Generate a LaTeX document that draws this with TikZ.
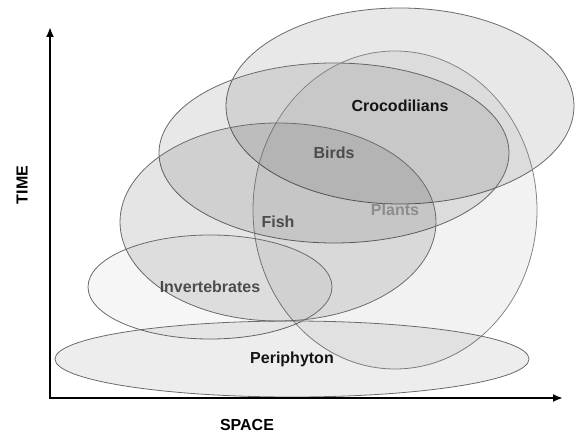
\documentclass[tikz,border=0pt]{standalone}
\usepackage{fontspec}
\setmainfont{Liberation Sans}
\usetikzlibrary{shapes.geometric,arrows.meta}

\begin{document}
\begin{tikzpicture}[x=1pt, y=1pt,
     zone/.style={ellipse, draw=black!58, line width=0.8pt, fill=black, inner sep=0pt},
     tag/.style={font=\bfseries\fontsize{16}{19}\selectfont, text=black!70},
     axis/.style={line width=1.9pt, line join=miter, {Latex[length=10pt,width=8pt]}-{Latex[length=10pt,width=8pt]}}]

   \useasboundingbox (0,0) rectangle (581,434);

   % habitat ranges
   \node[zone, fill opacity=0.09, minimum width=348pt, minimum height=196pt] (croc) at (400,328) {};
   \node[zone, fill opacity=0.09, minimum width=350pt, minimum height=180pt] (birds) at (334,281) {};
   \node[zone, fill opacity=0.05, draw=black!48, minimum width=284pt, minimum height=318pt] (plants) at (395,224) {};
   \node[zone, fill opacity=0.10, minimum width=316pt, minimum height=198pt] (fish) at (278,212) {};
   \node[zone, fill opacity=0.035, minimum width=244pt, minimum height=104pt] (inv) at (210,147) {};
   \node[zone, fill opacity=0.07, minimum width=474pt, minimum height=76pt] (peri) at (292,75) {};

   \node[tag, text=black!92] (lcroc) at (croc) {Crocodilians};
   \node[tag] (lbirds) at (birds) {Birds};
   \node[tag, text=black!45] (lplants) at (plants) {Plants};
   \node[tag] (lfish) at (fish) {Fish};
   \node[tag] (linv) at (inv) {Invertebrates};
   \node[tag, text=black!92] (lperi) at (peri) {Periphyton};

   % axes
   \coordinate (o) at (50,36);
   \coordinate (ytip) at (50,407);
   \coordinate (xtip) at (563,36);
   \draw[axis] (ytip) -- (o) -- (xtip);
   \node[tag, text=black, rotate=90] (time) at (22,249) {TIME};
   \node[tag, text=black] (space) at (247,9) {SPACE};
\end{tikzpicture}
\end{document}
